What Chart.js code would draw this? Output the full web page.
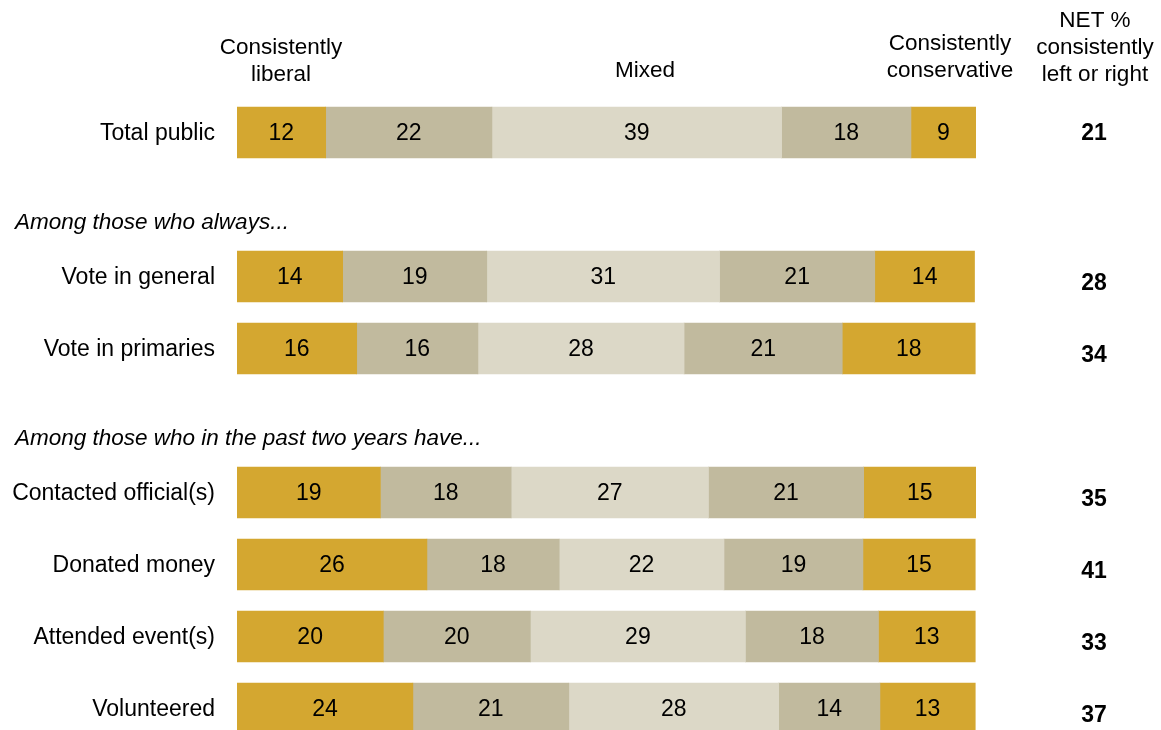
<!DOCTYPE html>
<html>
<head>
<meta charset="utf-8">
<script src="https://cdn.jsdelivr.net/npm/chart.js@4/dist/chart.umd.min.js"></script>
<style>
  html, body { margin: 0; padding: 0; background: #fff; overflow: hidden; }
  #wrap { width: 1161px; height: 730px; overflow: hidden; position: relative; }
  canvas { display: block; }
</style>
</head>
<body>
<div id="wrap"><canvas id="c" width="1161" height="760"></canvas></div>
<script>
// ---- Data ----
const categories = ["Total public", "", "Vote in general", "Vote in primaries", "",
  "Contacted official(s)", "Donated money", "Attended event(s)", "Volunteered"];
const sectionLabels = [
  { after: 1, text: "Among those who always..." },
  { after: 4, text: "Among those who in the past two years have..." }
];
const seriesNames = ["Consistently liberal", "Mostly liberal", "Mixed", "Mostly conservative", "Consistently conservative"];

// bar lengths
const consLiberal   = [12, null, 14.3, 16.2, null, 19.4, 25.7, 19.8, 23.8];
const mostlyLiberal = [22.5, null, 19.5, 16.4, null, 17.7, 17.9, 19.9, 21.1];
const mixed         = [39.2, null, 31.5, 27.9, null, 26.7, 22.3, 29.1, 28.4];
const mostlyCons    = [17.5, null, 21.0, 21.4, null, 21.0, 18.8, 18.0, 13.7];
const consCons      = [8.8, null, 13.5, 18.0, null, 15.2, 15.2, 13.1, 12.9];

// printed labels
const consLiberalLbl   = [12, null, 14, 16, null, 19, 26, 20, 24];
const mostlyLiberalLbl = [22, null, 19, 16, null, 18, 18, 20, 21];
const mixedLbl         = [39, null, 31, 28, null, 27, 22, 29, 28];
const mostlyConsLbl    = [18, null, 21, 21, null, 21, 19, 18, 14];
const consConsLbl      = [9, null, 14, 18, null, 15, 15, 13, 13];
const netValues        = [21, null, 28, 34, null, 35, 41, 33, 37];

const GOLD = "#D4A730", TAN = "#C1BA9E", LIGHT = "#DCD8C7";
const FONT = "'Liberation Sans', Arial, sans-serif";

const seriesData = [consLiberal, mostlyLiberal, mixed, mostlyCons, consCons];
const seriesLbls = [consLiberalLbl, mostlyLiberalLbl, mixedLbl, mostlyConsLbl, consConsLbl];
const seriesColors = [GOLD, TAN, LIGHT, TAN, GOLD];

const labelsPlugin = {
  id: "labels",
  afterDatasetsDraw(chart) {
    const ctx = chart.ctx;
    const yScale = chart.scales.y;
    ctx.save();
    ctx.fillStyle = "#000";
    ctx.textBaseline = "middle";
    // values inside bars
    ctx.font = "23px " + FONT;
    ctx.textAlign = "center";
    chart.data.datasets.forEach((ds, di) => {
      const meta = chart.getDatasetMeta(di);
      meta.data.forEach((el, i) => {
        const v = seriesLbls[di][i];
        if (v === null || v === undefined) return;
        ctx.fillText(String(v), (el.x + el.base) / 2, el.y + 1);
      });
    });
    // category labels
    ctx.textAlign = "right";
    categories.forEach((c, i) => {
      if (!c) return;
      ctx.fillText(c, 215, yScale.getPixelForValue(i) + 1);
    });
    // section labels
    ctx.font = "italic 22.5px " + FONT;
    ctx.textAlign = "left";
    sectionLabels.forEach(s => {
      ctx.fillText(s.text, 15, yScale.getPixelForValue(s.after) + 18);
    });
    // NET values
    ctx.font = "bold 23px " + FONT;
    ctx.textAlign = "center";
    netValues.forEach((v, i) => {
      if (v === null) return;
      const off = i === 0 ? 1 : 7;
      ctx.fillText(String(v), 1094, yScale.getPixelForValue(i) + off);
    });
    // headers
    ctx.font = "22.5px " + FONT;
    ctx.fillText("Consistently", 281, 48);
    ctx.fillText("liberal", 281, 75);
    ctx.fillText("Mixed", 645, 71);
    ctx.fillText("Consistently", 950, 44);
    ctx.fillText("conservative", 950, 71);
    ctx.fillText("NET %", 1095, 21);
    ctx.fillText("consistently", 1095, 48);
    ctx.fillText("left or right", 1095, 75);
    ctx.restore();
  }
};

new Chart(document.getElementById("c"), {
  type: "bar",
  data: {
    labels: categories,
    datasets: seriesData.map((d, i) => ({
      label: seriesNames[i],
      data: d,
      backgroundColor: seriesColors[i],
      borderWidth: 0,
      barThickness: 51
    }))
  },
  options: {
    indexAxis: "y",
    responsive: false,
    animation: false,
    events: [],
    layout: { padding: { left: 237, right: 185, top: 96.5, bottom: 15.5 } },
    scales: {
      x: { stacked: true, min: 0, max: 100, display: false },
      y: { stacked: true, display: false, grid: { display: false } }
    },
    plugins: { legend: { display: false }, tooltip: { enabled: false } }
  },
  plugins: [labelsPlugin]
});
</script>
</body>
</html>
